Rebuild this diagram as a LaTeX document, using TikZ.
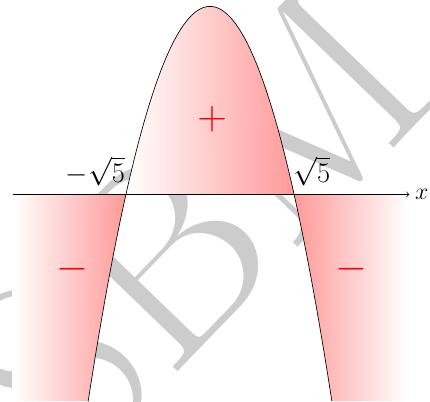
\documentclass[tikz,border=0pt]{standalone}
\usepackage{amsfonts,amssymb,amsmath}
\usepackage{xcolor}
\usepackage{tikz}
\usetikzlibrary{arrows.meta,shadings}

\begin{document}
\begin{tikzpicture}[>=to,scale=0.8]
\useasboundingbox(-5.585,-5.52)rectangle(5.85,5.17);
\node[rotate=46,text=black!20,font=\fontsize{160}{180}\selectfont](wm)at(-0.4,-0.8){SBM};
\shade[left color=white,right color=red!40]plot[domain=-2.2361:2.2361,samples=60,smooth](\x,{5-\x*\x})--cycle;
\shade[left color=white,right color=red!40](-5.25,0)--(-2.2361,0)--plot[domain=-2.2361:-3.2404,samples=20,smooth](\x,{5-\x*\x})--(-5.25,-5.5)--cycle;
\shade[left color=red!40,right color=white](2.2361,0)--(5.25,0)--(5.25,-5.5)--(3.2404,-5.5)--plot[domain=3.2404:2.2361,samples=20,smooth](\x,{5-\x*\x})--cycle;
\draw plot[domain=-3.2404:3.2404,samples=100,smooth](\x,{5-\x*\x});
\draw[->](-5.25,0)--(5.3,0)node[right,font=\Large](xl){$x$};
\draw(-2.25,0.32)node[anchor=base east,inner sep=0pt,font=\LARGE](m5){$-\sqrt5$}
(2.21,0.32)node[anchor=base west,inner sep=0pt,font=\LARGE](p5){$\sqrt5$};
\draw(0.06,2)node[text=red,font=\Huge](pl){$+$}
(-3.66,-2)node[text=red,font=\Huge](ml){$-$}
(3.77,-2)node[text=red,font=\Huge](mr){$-$};
\end{tikzpicture}
\end{document}
